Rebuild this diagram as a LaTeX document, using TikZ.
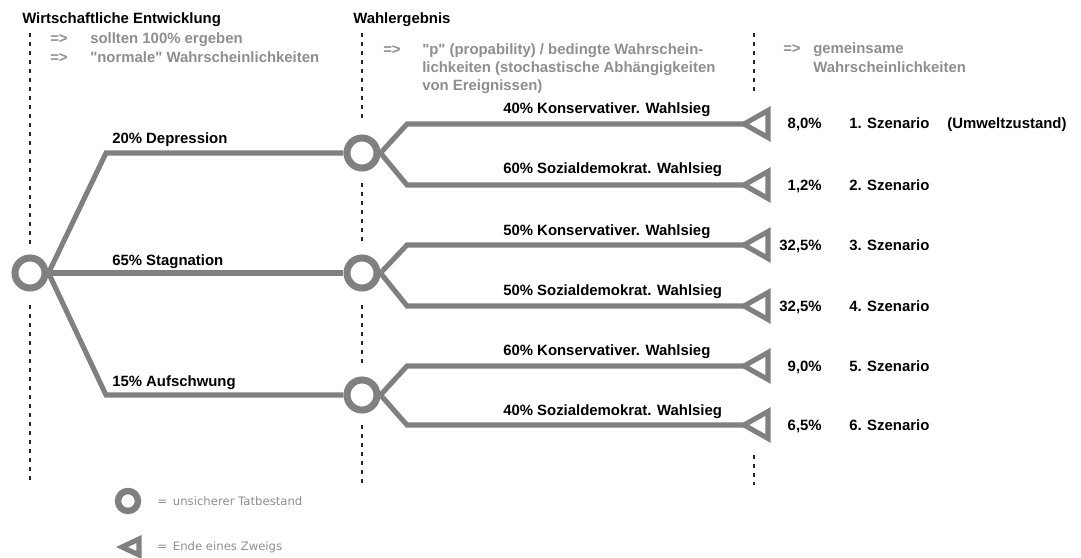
\documentclass[tikz,border=0pt]{standalone}
\usepackage{fontspec}
\setmainfont{Liberation Sans}[Ligatures=TeXOff]
\newfontfamily\legendfont{DejaVu Sans}
\usetikzlibrary{positioning}
\definecolor{branchgray}{HTML}{808080}
\definecolor{notegray}{HTML}{8E8E8E}
\tikzset{lbl/.style={anchor=base west,inner sep=0pt,font=\fontsize{10.6}{12.8}\selectfont\bfseries},
 note/.style={lbl,text=notegray},
 pct/.style={lbl,anchor=base east},
 branch/.style={draw=branchgray,line width=3.6pt},
 event/.style={circle,draw=branchgray,fill=white,line width=5pt,minimum size=0.75cm,inner sep=0pt},
 endmark/.style={draw=branchgray,line width=3.6pt,line join=miter},
 guide/.style={draw=black!85,line width=1.1pt,dash pattern=on 2.8pt off 3.6pt},
 legend/.style={anchor=west,inner sep=0pt,text=notegray,font=\legendfont\fontsize{8.3}{10}\selectfont}}
\begin{document}
\begin{tikzpicture}[x=0.025cm,y=-0.025cm]
\useasboundingbox (0,0) rectangle (1081,558);
% dashed guides
\draw[guide] (30,33)--(30,245) (30,305)--(30,482);
\draw[guide] (362,33)--(362,120) (362,183)--(362,243) (362,305)--(362,365) (362,425)--(362,483);
\draw[guide] (754,33)--(754,92) (754,455)--(754,485);
% headings and notes
\node[lbl] (h1) at (22,24) {Wirtschaftliche Entwicklung};
\node[lbl] (h2) at (353,24) {Wahlergebnis};
\node[note] (n1a) at (50,44) {=>};
\node[note] (n1b) at (90,44) {sollten 100\% ergeben};
\node[note] (n2a) at (50,63) {=>};
\node[note] (n2b) at (90,63) {"normale" Wahrscheinlichkeiten};
\node[note] (m1a) at (383,55) {=>};
\node[note] (m1b) at (422,55) {"p" (propability) / bedingte Wahrschein-};
\node[note] (m2b) at (422,73) {lichkeiten (stochastische Abhängigkeiten};
\node[note] (m3b) at (422,91) {von Ereignissen)};
\node[note] (r1a) at (783,54) {=>};
\node[note] (r1b) at (813,54) {gemeinsame};
\node[note] (r2b) at (813,73) {Wahrscheinlichkeiten};
% events
\node[event] (c0) at (30,273) {};
\node[event] (c1) at (362,153) {};
\node[event] (c2) at (362,273) {};
\node[event] (c3) at (362,395) {};
\foreach \i/\y in {1/124,2/185,3/245,4/306,5/366,6/425}
  \coordinate (t\i) at (744,\y);
\draw[branch] (c0.east)--(106,153)--(c1.west);
\draw[branch] (c0.east)--(c2.west);
\draw[branch] (c0.east)--(106,395)--(c3.west);
\draw[branch] (c1.east)--(407,124)--(t1);
\draw[branch] (c1.east)--(407,185)--(t2);
\draw[branch] (c2.east)--(407,245)--(t3);
\draw[branch] (c2.east)--(407,306)--(t4);
\draw[branch] (c3.east)--(407,366)--(t5);
\draw[branch] (c3.east)--(407,425)--(t6);
\foreach \i in {1,...,6}
  \draw[endmark] (t\i)--++(24,-13.5)--++(0,27)--cycle;
% branch labels
\node[lbl] (d1) at (112,144) {20\% Depression};
\node[lbl] (d2) at (112,265) {65\% Stagnation};
\node[lbl] (d3) at (112,386) {15\% Aufschwung};
\node[lbl] (w1) at (503,114) {40\% Konservativer. Wahlsieg};
\node[lbl] (w2) at (503,174) {60\% Sozialdemokrat. Wahlsieg};
\node[lbl] (w3) at (503,235) {50\% Konservativer. Wahlsieg};
\node[lbl] (w4) at (503,295) {50\% Sozialdemokrat. Wahlsieg};
\node[lbl] (w5) at (503,355) {60\% Konservativer. Wahlsieg};
\node[lbl] (w6) at (503,415) {40\% Sozialdemokrat. Wahlsieg};
% results
\foreach \i/\y/\p in {1/129/{8,0\%},2/190/{1,2\%},3/250/{32,5\%},4/311/{32,5\%},5/371/{9,0\%},6/430/{6,5\%}}{
  \node[pct] (p\i) at (822,\y) {\p};
  \node[lbl] (s\i) at (849,\y) {\i. Szenario};
}
\node[lbl] (uz) at (947,129) {(Umweltzustand)};
% legend
\node[event,minimum size=0.5cm,line width=4.6pt] (lc) at (128,501) {};
\node[legend] (lct) at (157,501) {=\enspace unsicherer Tatbestand};
\coordinate (lt) at (122,547);
\draw[endmark] (lt)--++(17,-8)--++(0,16)--cycle;
\node[legend] (ltt) at (157,547) {=\enspace Ende eines Zweigs};
\end{tikzpicture}
\end{document}
